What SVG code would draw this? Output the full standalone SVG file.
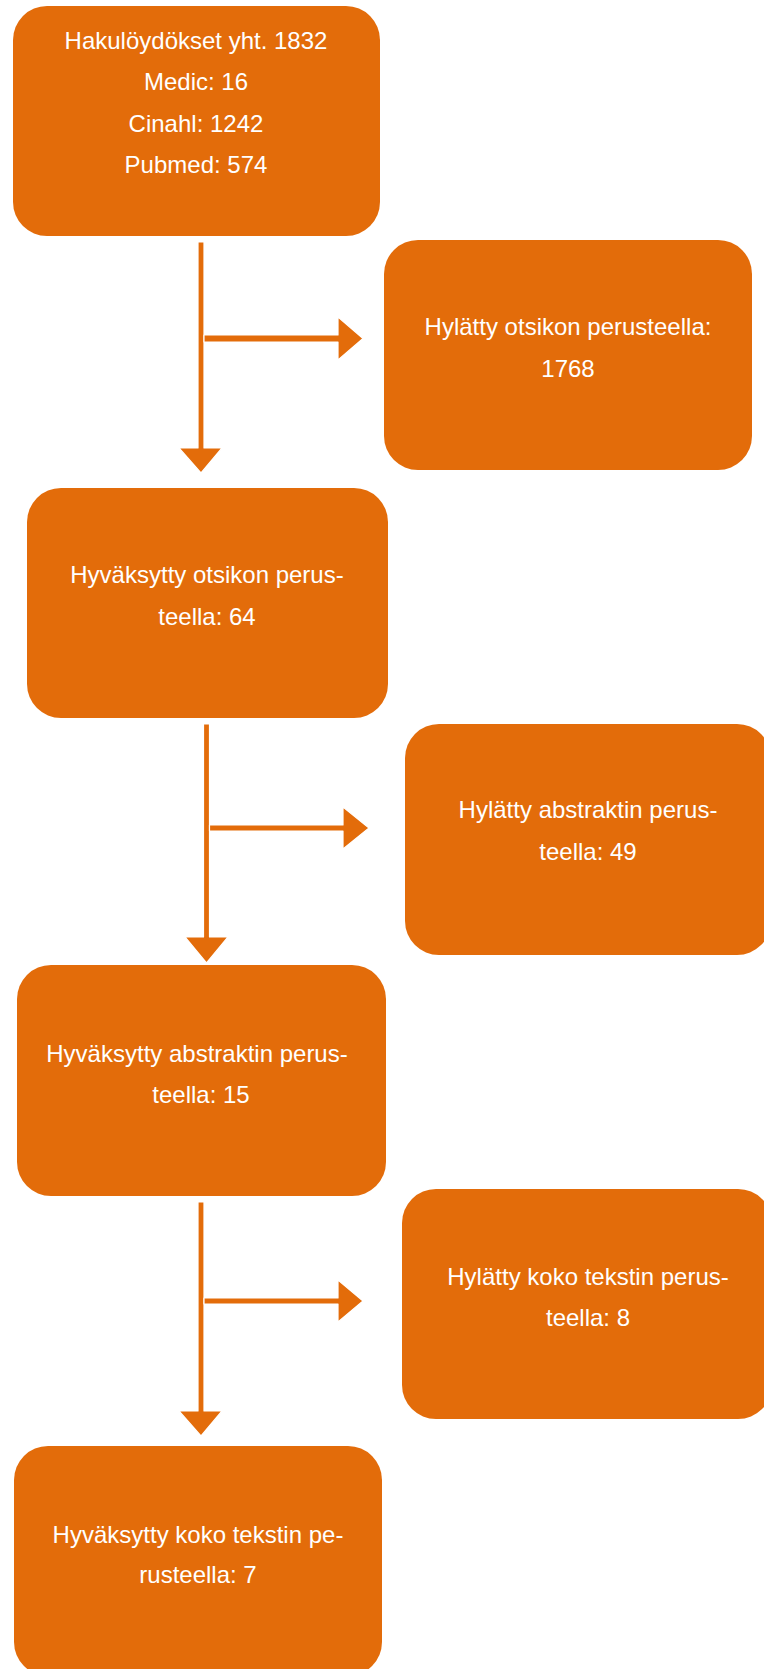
<svg xmlns="http://www.w3.org/2000/svg" width="764" height="1669" viewBox="0 0 764 1669">
<style>
.box{fill:#E36C0A;}
.t{font-family:"Liberation Sans",Arial,sans-serif;font-size:24px;fill:#ffffff;text-anchor:middle;}
.c{fill:#E36C0A;stroke:#ffffff;stroke-width:1.2;stroke-linejoin:round;}
</style>
<rect width="764" height="1669" fill="#ffffff"/>
<g id="n1">
<rect class="box" x="13" y="6" width="367" height="230" rx="34" ry="34"/>
<text class="t" x="196" y="49">Hakulöydökset yht. 1832</text>
<text class="t" x="196" y="90">Medic: 16</text>
<text class="t" x="196" y="132">Cinahl: 1242</text>
<text class="t" x="196" y="173">Pubmed: 574</text>
</g>
<g id="n2">
<rect class="box" x="384" y="240" width="368" height="230" rx="34" ry="34"/>
<text class="t" x="568" y="335">Hylätty otsikon perusteella:</text>
<text class="t" x="568" y="377">1768</text>
</g>
<g id="n3">
<rect class="box" x="27" y="488" width="361" height="230" rx="34" ry="34"/>
<text class="t" x="207" y="583">Hyväksytty otsikon perus-</text>
<text class="t" x="207" y="625">teella: 64</text>
</g>
<g id="n4">
<rect class="box" x="405" y="724" width="366" height="231" rx="34" ry="34"/>
<text class="t" x="588" y="818">Hylätty abstraktin perus-</text>
<text class="t" x="588" y="860">teella: 49</text>
</g>
<g id="n5">
<rect class="box" x="17" y="965" width="369" height="231" rx="34" ry="34"/>
<text class="t" x="197" y="1062">Hyväksytty abstraktin perus-</text>
<text class="t" x="201" y="1103">teella: 15</text>
</g>
<g id="n6">
<rect class="box" x="402" y="1189" width="370" height="230" rx="34" ry="34"/>
<text class="t" x="588" y="1285">Hylätty koko tekstin perus-</text>
<text class="t" x="588" y="1326">teella: 8</text>
</g>
<g id="n7">
<rect class="box" x="14" y="1446" width="368" height="230" rx="34" ry="34"/>
<text class="t" x="198" y="1543">Hyväksytty koko tekstin pe-</text>
<text class="t" x="198" y="1583">rusteella: 7</text>
</g>
<g id="connectors">
<polygon class="c" points="198,242 204,242 204,448 222,448 201,473 179,448 198,448"/>
<polygon class="c" points="204,335 338,335 338,317 363,338.5 338,360 338,342 204,342"/>
<polygon class="c" points="203.5,724 209.5,724 209.5,937 228,937 206.5,963 185,937 203.5,937"/>
<polygon class="c" points="209.5,825 343,825 343,807 369,828 343,849 343,831 209.5,831"/>
<polygon class="c" points="198,1202 204,1202 204,1411 222,1411 201,1436 179,1411 198,1411"/>
<polygon class="c" points="204,1298 338,1298 338,1280 363,1301 338,1322 338,1304 204,1304"/>
</g>
</svg>
